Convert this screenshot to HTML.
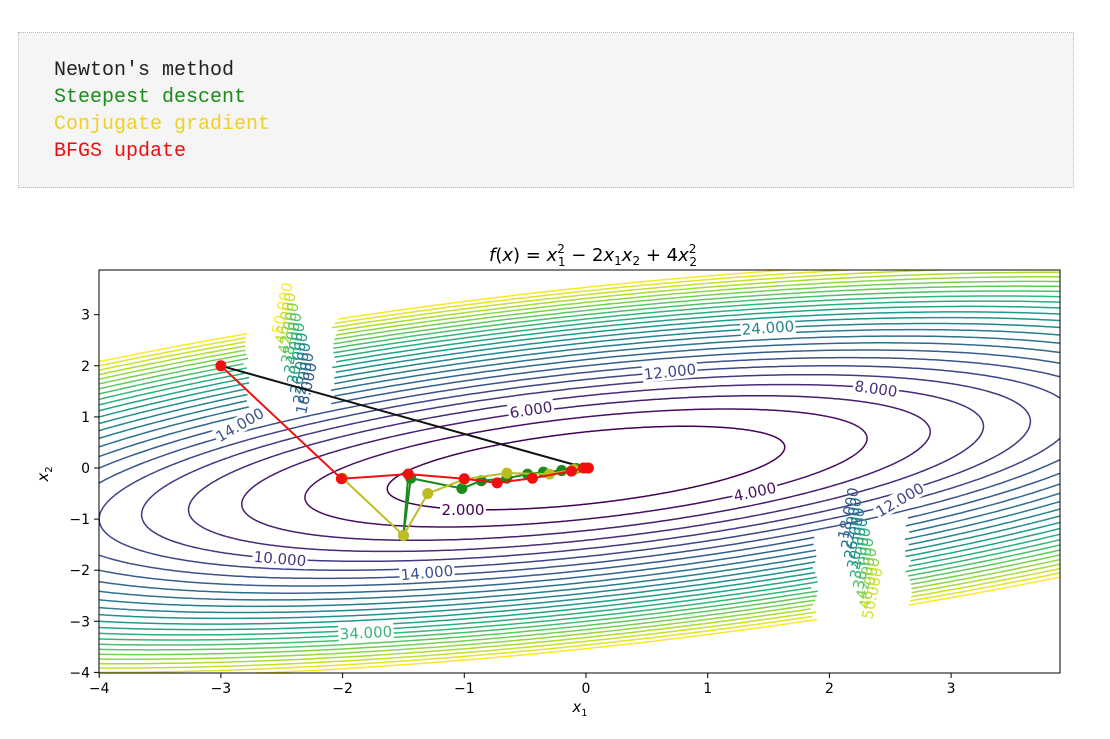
<!DOCTYPE html>
<html><head><meta charset="utf-8"><style>
body{margin:0;background:#fff;width:1110px;height:739px;overflow:hidden;position:relative;font-family:"DejaVu Sans","Liberation Sans",sans-serif}
#box{position:absolute;left:18px;top:32px;width:1054px;height:154px;border:1px dotted #bbb;background:#f5f5f5}
#box div{position:absolute;left:35px;font-family:"Liberation Mono","Noto Sans CJK SC",monospace;font-size:20px;line-height:27px}
svg{position:absolute;left:0;top:0}
</style></head><body>
<div id="box">
<div style="top:24px;color:#222">Newton's method</div>
<div style="top:51px;color:#1a8a1a">Steepest descent</div>
<div style="top:78px;color:#f0d020">Conjugate gradient</div>
<div style="top:105px;color:#e81010">BFGS update</div>
</div>
<svg id="s" width="1110" height="739" xmlns="http://www.w3.org/2000/svg"></svg>
<script>
const S=document.getElementById('s');
const X0=99,X1=1060,Y0=270,Y1=673;
const px=x=>586+x*121.7, py=y=>468-y*51.1;
const vir=[[68,1,84],[72,40,120],[62,74,137],[49,104,142],[38,130,142],[31,158,137],[53,183,121],[109,205,89],[180,222,44],[253,231,37]];
function col(t){t=Math.max(0,Math.min(1,t))*9;const i=Math.min(8,Math.floor(t)),f=t-i,a=vir[i],b=vir[i+1];return `rgb(${a.map((v,k)=>Math.round(v+(b[k]-v)*f)).join(',')})`;}
let h=`<defs><clipPath id="c"><rect x="${X0}" y="${Y0}" width="${X1-X0}" height="${Y1-Y0}"/></clipPath></defs><g clip-path="url(#c)">`;
const l1=(5-Math.sqrt(13))/2,l2=(5+Math.sqrt(13))/2;
let ex=1,ey=1-l1,n=Math.hypot(ex,ey);ex/=n;ey/=n;
const gaps=[[250,270,330,440],[818,490,905,673]];
for(let c=2;c<=50;c+=2){
  const a=Math.sqrt(c/l1),b=Math.sqrt(c/l2);
  let d='',pen=false;
  for(let k=0;k<=720;k++){const t=k/720*2*Math.PI;const u=a*Math.cos(t),v=b*Math.sin(t);
    const x=u*ex-v*ey,y=u*ey+v*ex;const X=px(x),Y=py(y);
    let inGap=false; if(c>=16)for(const g of gaps)if(X>g[0]&&X<g[2]&&Y>g[1]&&Y<g[3])inGap=true;
    if(inGap){pen=false;continue;}
    d+=(pen?'L':'M')+X.toFixed(1)+' '+Y.toFixed(1);pen=true;}
  h+=`<path d="${d}" fill="none" stroke="${col((c-2)/48)}" stroke-width="1.5"/>`;
}
h+='</g>';
const labs=[["24.000",768,328,-4,24],["12.000",670,372,-6,12],["8.000",876,389,8,8],["6.000",531,410,-9,6],["4.000",755,492,-12,4],["2.000",463,510,0,2],["10.000",280,559,5,10],["14.000",427,573,-5,14],["34.000",366,633,-3,34],["14.000",240,425,-30,14],["12.000",900,500,-30,12]];
for(const [t,x,y,r,c] of labs){h+=`<g transform="translate(${x},${y}) rotate(${r})"><rect x="-${t.length*4.6}" y="-9" width="${t.length*9.2}" height="17" fill="#fff"/><text x="0" y="5" text-anchor="middle" font-size="15" fill="${col((c-2)/48)}">${t}</text></g>`;}
for(let i=0;i<9;i++){h+=`<text x="${282+i*3}" y="${335+i*10}" font-size="15" fill="${col(1-i*0.09)}" transform="rotate(-78 ${282+i*3} ${335+i*10})">${50-i*4}.000</text>`;
 h+=`<text x="${848+i*3}" y="${540+i*10}" font-size="15" fill="${col(0.3+i*0.08)}" transform="rotate(-78 ${848+i*3} ${540+i*10})">${18+i*4}.000</text>`;}
function line(pts,colr){const P=pts.map(p=>[px(p[0]),py(p[1])]);let s=`<polyline points="${P.map(p=>p.join(',')).join(' ')}" fill="none" stroke="${colr}" stroke-width="2"/>`;if(colr!='#111')P.forEach(p=>s+=`<circle cx="${p[0]}" cy="${p[1]}" r="5.5" fill="${colr}"/>`);return s;}
h+=line([[-3,2],[0,0]],'#111');
h+=line([[-1.46,-0.12],[-1.5,-1.32],[-1.44,-0.2],[-1.02,-0.4],[-0.86,-0.25],[-0.65,-0.2],[-0.48,-0.12],[-0.35,-0.08],[-0.2,-0.05],[-0.08,-0.01],[0,0]],'#1a8a1a');
h+=line([[-2,-0.2],[-1.5,-1.32],[-1.3,-0.5],[-1.0,-0.22],[-0.65,-0.1],[-0.3,-0.12],[-0.1,-0.03],[0,0]],'#bcbd22');
h+=line([[-3,2],[-2.01,-0.21],[-1.46,-0.12],[-1.0,-0.21],[-0.73,-0.29],[-0.44,-0.2],[-0.12,-0.06],[-0.02,0],[0.02,0]],'#f01010');
h+=`<rect x="${X0}" y="${Y0}" width="${X1-X0}" height="${Y1-Y0}" fill="none" stroke="#000" stroke-width="1"/>`;
for(let x=-4;x<=3;x++){const X=px(x);h+=`<line x1="${X}" y1="${Y1}" x2="${X}" y2="${Y1+5}" stroke="#000"/><text x="${X}" y="${Y1+20}" font-size="14" text-anchor="middle">${x<0?'−'+(-x):x}</text>`;}
for(let y=-4;y<=3;y++){const Y=py(y);h+=`<line x1="${X0-5}" y1="${Y}" x2="${X0}" y2="${Y}" stroke="#000"/><text x="${X0-9}" y="${Y+5}" font-size="14" text-anchor="end">${y<0?'−'+(-y):y}</text>`;}
h+=`<text x="580" y="712" font-size="15" text-anchor="middle" font-style="italic">x<tspan font-size="10" dy="4" font-style="normal">1</tspan></text>`;
h+=`<text transform="translate(48,474) rotate(-90)" font-size="15" text-anchor="middle" font-style="italic">x<tspan font-size="10" dy="4" font-style="normal">2</tspan></text>`;
h+=`<text x="593" y="261" font-size="18" text-anchor="middle"><tspan font-style="italic">f</tspan>(<tspan font-style="italic">x</tspan>) = <tspan font-style="italic">x</tspan><tspan font-size="12" dy="-8">2</tspan><tspan font-size="12" dx="-7" dy="13">1</tspan><tspan dy="-5"> − 2</tspan><tspan font-style="italic">x</tspan><tspan font-size="12" dy="4">1</tspan><tspan font-style="italic" dy="-4">x</tspan><tspan font-size="12" dy="4">2</tspan><tspan dy="-4"> + 4</tspan><tspan font-style="italic">x</tspan><tspan font-size="12" dy="-8">2</tspan><tspan font-size="12" dx="-7" dy="13">2</tspan></text>`;
S.innerHTML=h;
</script>
</body></html>
